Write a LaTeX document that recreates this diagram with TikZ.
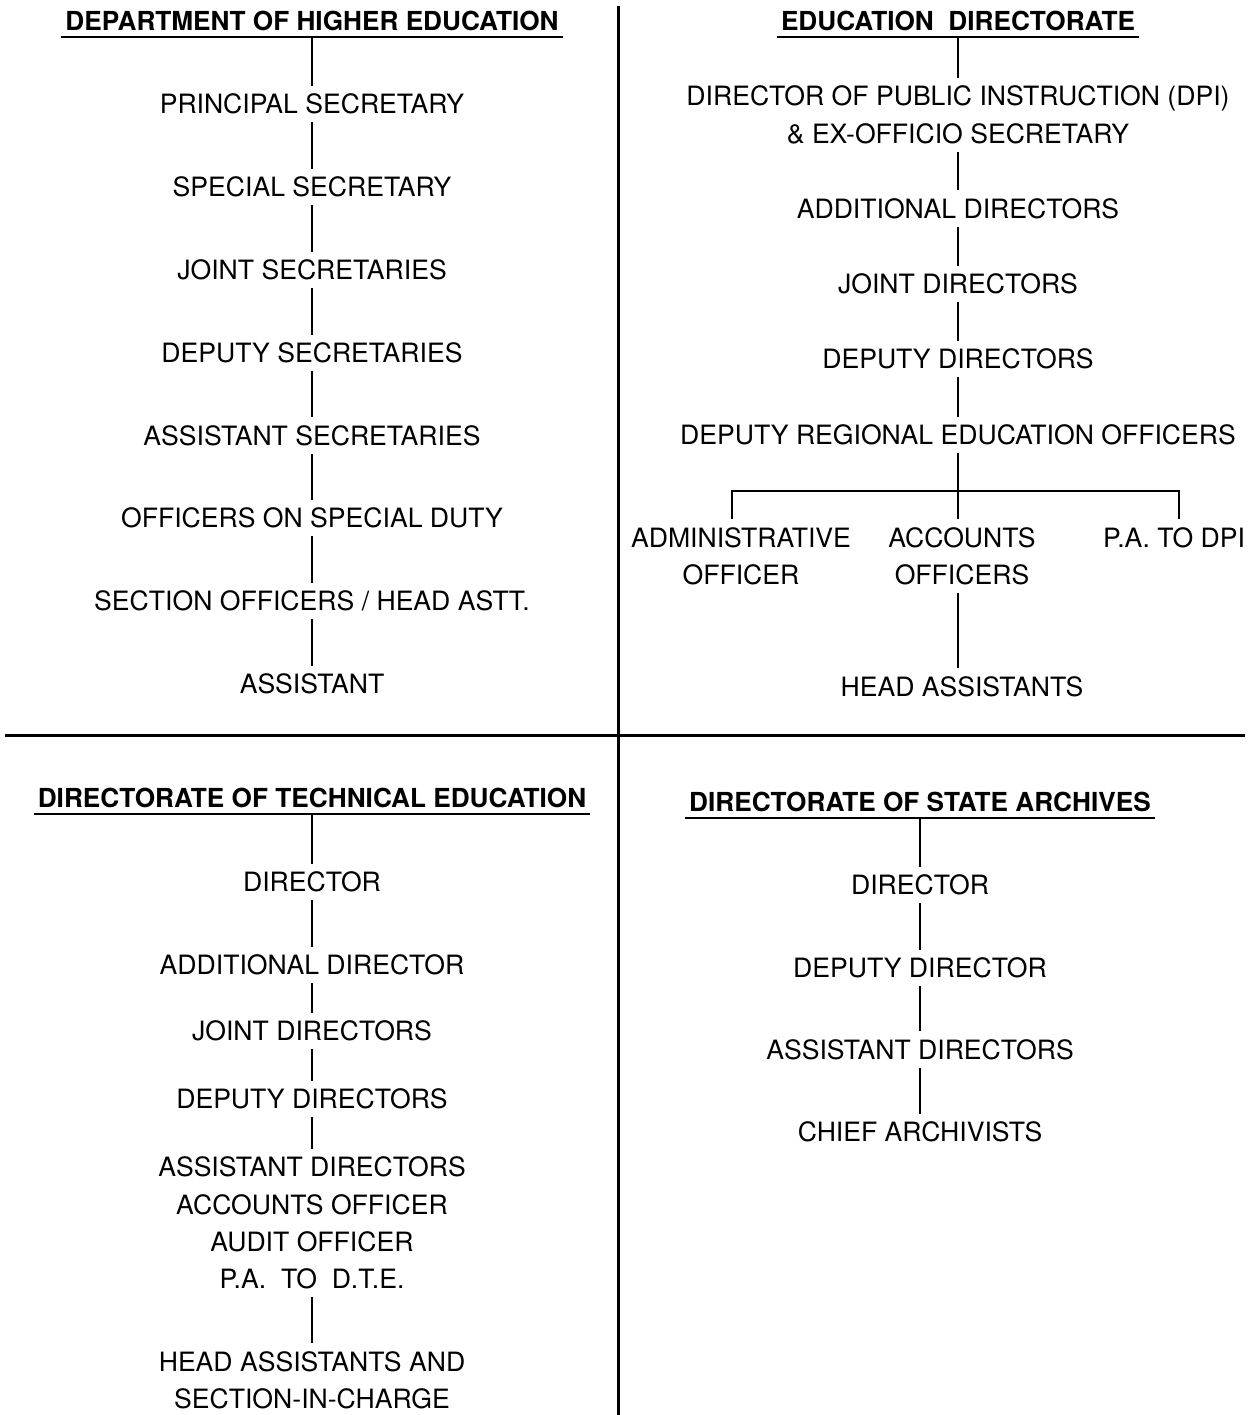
\documentclass[tikz,border=0pt]{standalone}
\usepackage{fontspec}
\setmainfont{TeX Gyre Heros}

\begin{document}
\begin{tikzpicture}[x=1pt,y=-1pt,
  post/.style={font=\fontsize{26.6}{37.3}\selectfont,align=center,inner xsep=2pt,inner ysep=8pt},
  head/.style={font=\fontsize{26.2}{37.3}\selectfont\bfseries,inner xsep=4pt,inner ysep=6pt},
  link/.style={line width=2pt},
  rule/.style={line width=2.5pt},
  divider/.style={line width=3pt}]
\useasboundingbox (0,0) rectangle (1254,1415);
\draw[divider] (618.5,6) -- (618.5,1415);
\draw[divider] (5,735) -- (1245,735);

\node[head] (dhe) at (312,21) {DEPARTMENT OF HIGHER EDUCATION};
\node[post] (ps) at (312,104) {PRINCIPAL SECRETARY};
\node[post] (ss) at (312,187) {SPECIAL SECRETARY};
\node[post] (js) at (312,270) {JOINT SECRETARIES};
\node[post] (ds) at (312,353) {DEPUTY SECRETARIES};
\node[post] (as) at (312,435.5) {ASSISTANT SECRETARIES};
\node[post] (osd) at (312,518) {OFFICERS ON SPECIAL DUTY};
\node[post] (so) at (312,601) {SECTION OFFICERS / HEAD ASTT.};
\node[post] (ast) at (312,684) {ASSISTANT};
\draw[rule] (dhe.south west) -- (dhe.south east);
\draw[link] (dhe.south) -- (ps) -- (ss) -- (js) -- (ds) -- (as) -- (osd) -- (so) -- (ast);

\node[head] (ed) at (958,21) {EDUCATION~~DIRECTORATE};
\node[post] (dpi) at (958,115) {DIRECTOR OF PUBLIC INSTRUCTION (DPI)\\\& EX-OFFICIO SECRETARY};
\node[post] (ad) at (958,208.5) {ADDITIONAL DIRECTORS};
\node[post] (jd) at (958,284) {JOINT DIRECTORS};
\node[post] (dd) at (958,359) {DEPUTY DIRECTORS};
\node[post] (dreo) at (958,435) {DEPUTY REGIONAL EDUCATION OFFICERS};
\node[post] (ao) at (741,556) {ADMINISTRATIVE\\OFFICER};
\node[post] (acc) at (962,556) {ACCOUNTS\\OFFICERS};
\node[post] (pa) at (1174,537.5) {P.A. TO DPI};
\node[post] (has) at (962,686.5) {HEAD ASSISTANTS};
\coordinate (barl) at (732,491);
\coordinate (barr) at (1179,491);
\draw[rule] (ed.south west) -- (ed.south east);
\draw[link] (ed.south) -- (dpi) -- (ad) -- (jd) -- (dd) -- (dreo);
\draw[link] (dreo.south) -- (dreo.south |- acc.north);
\draw[link] (barl |- ao.north) -- (barl) -- (barr) -- (barr |- pa.north);
\draw[link] (acc.south -| dreo.south) -- (has.north -| dreo.south);

\node[head] (dte) at (312,798) {DIRECTORATE OF TECHNICAL EDUCATION};
\node[post] (tdir) at (312,882) {DIRECTOR};
\node[post] (tadd) at (312,965) {ADDITIONAL DIRECTOR};
\node[post] (tjd) at (312,1031) {JOINT DIRECTORS};
\node[post] (tdd) at (312,1099) {DEPUTY DIRECTORS};
\node[post] (tasd) at (312,1223) {ASSISTANT DIRECTORS\\ACCOUNTS OFFICER\\AUDIT OFFICER\\P.A.\ \ TO\ \ D.T.E.};
\node[post] (tha) at (312,1380.5) {HEAD ASSISTANTS AND\\SECTION-IN-CHARGE};
\draw[rule] (dte.south west) -- (dte.south east);
\draw[link] (dte.south) -- (tdir) -- (tadd) -- (tjd) -- (tdd) -- (tasd) -- (tha);

\node[head] (dsa) at (920,802) {DIRECTORATE OF STATE ARCHIVES};
\node[post] (adir) at (920,885) {DIRECTOR};
\node[post] (add) at (920,968) {DEPUTY DIRECTOR};
\node[post] (aad) at (920,1049.5) {ASSISTANT DIRECTORS};
\node[post] (aca) at (920,1132) {CHIEF ARCHIVISTS};
\draw[rule] (dsa.south west) -- (dsa.south east);
\draw[link] (dsa.south) -- (adir) -- (add) -- (aad) -- (aca);
\end{tikzpicture}
\end{document}
